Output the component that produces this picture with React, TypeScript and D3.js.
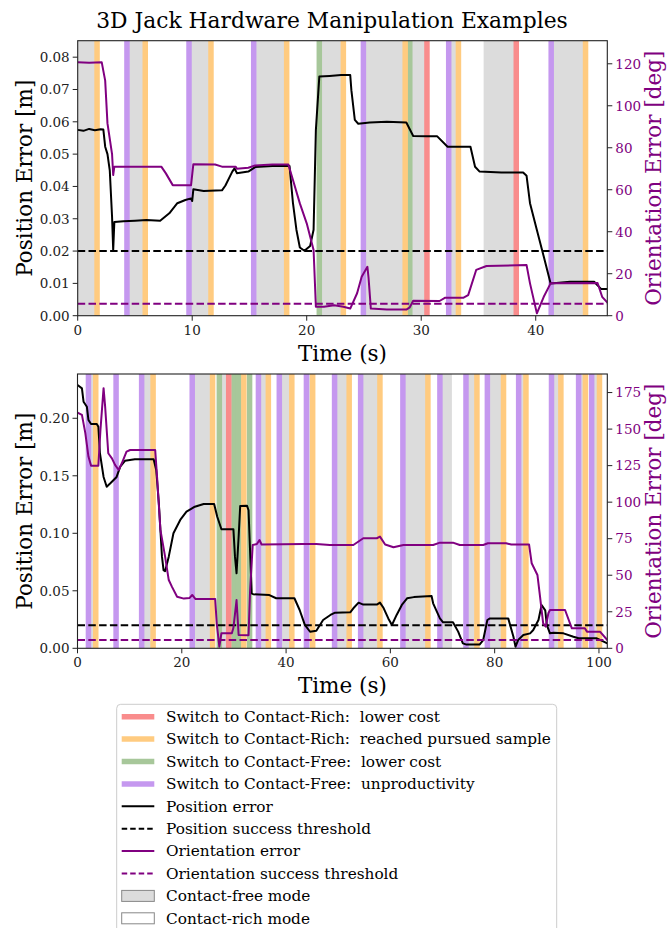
import React from "react";
import * as d3 from "d3";

// ---------------- DATA ----------------
const topPosT = [0, 0.5, 1.0, 1.5, 2.0, 2.24, 2.4, 2.6, 2.8, 3.0, 3.1, 3.2, 4.0, 5.0, 6.0, 7.2, 8.0, 8.7, 9.4, 9.9, 10.0, 10.1, 11.0, 12.6, 12.9, 13.5, 13.7, 13.9, 14.9, 15.5, 17.0, 18.5, 18.8, 19.1, 19.4, 19.8, 20.3, 20.6, 20.8, 21.1, 22.0, 23.0, 23.8, 23.9, 24.2, 24.5, 25.5, 27.0, 28.7, 29.3, 30.5, 31.4, 32.3, 34.3, 34.7, 35.1, 37.0, 38.9, 39.2, 39.5, 40.1, 40.7, 41.3, 43.0, 45.1, 45.7, 46.3];
const topPos = [0.0575, 0.0572, 0.0578, 0.0574, 0.0577, 0.0576, 0.0523, 0.050, 0.045, 0.0307, 0.0203, 0.029, 0.0292, 0.0294, 0.0296, 0.0294, 0.0317, 0.0348, 0.0358, 0.0363, 0.0355, 0.0391, 0.0386, 0.0388, 0.0403, 0.0446, 0.0456, 0.0441, 0.0446, 0.046, 0.0463, 0.0463, 0.0348, 0.0266, 0.0211, 0.0201, 0.0216, 0.0266, 0.0575, 0.074, 0.0742, 0.0745, 0.0745, 0.0698, 0.0606, 0.0594, 0.0598, 0.060, 0.0598, 0.0556, 0.0555, 0.0555, 0.0523, 0.0523, 0.0461, 0.0446, 0.0443, 0.0443, 0.0433, 0.0348, 0.0265, 0.0183, 0.010, 0.0105, 0.0105, 0.0083, 0.0083];

const topOriT = [0, 1, 2.1, 2.4, 2.6, 3.0, 3.1, 3.2, 5, 7.3, 7.7, 8.3, 9.9, 10.1, 12.0, 12.6, 13.8, 13.9, 14.9, 15.5, 17, 18.4, 18.8, 19.4, 20.0, 20.6, 20.8, 21.5, 22.4, 23.2, 23.8, 24.4, 24.8, 25.3, 25.4, 25.6, 27, 28.7, 29.0, 29.3, 31.6, 32.1, 33.7, 34.1, 34.8, 35.7, 39.2, 39.5, 40.1, 40.7, 41.3, 45.4, 45.8, 46.3];
const topOri = [120.7, 120.5, 120.7, 112, 91.6, 77, 67, 71, 71, 71, 67.8, 62.2, 62.2, 72.2, 72, 71, 71, 70, 70.5, 71.6, 72, 72, 64.6, 53.5, 44, 31.3, 4.3, 4.3, 5, 4.3, 3.4, 10.7, 18.6, 23.3, 18, 3.4, 3.0, 2.9, 4, 7.1, 7, 8.6, 8.6, 9.8, 21.8, 23.7, 24.1, 15.4, 1.1, 9, 15.4, 15.6, 9, 6];

const botPosT = [0, 0.85, 1.16, 1.8, 2.1, 2.6, 3.7, 4.0, 4.3, 5.0, 5.6, 6.3, 7.5, 8.2, 9.1, 11, 14.6, 15.1, 15.6, 16.2, 16.5, 16.8, 17.5, 18.4, 19.7, 20.9, 22.5, 24.2, 26.2, 26.8, 27.6, 29.9, 30.2, 30.5, 30.9, 31.2, 32.5, 32.8, 33.4, 33.7, 36.8, 38.1, 41.6, 42.6, 43.6, 44.6, 45.8, 47.1, 48.5, 49.4, 52.3, 52.9, 53.9, 54.8, 57.4, 58.0, 58.7, 59.6, 60.3, 61.2, 62.2, 63.2, 64.5, 67.9, 68.2, 69.5, 70.1, 72.0, 73.0, 73.9, 74.6, 77.1, 77.8, 78.6, 79.1, 82.6, 83.6, 84.0, 84.5, 85.5, 86.8, 87.4, 88.4, 89.0, 89.7, 90.0, 90.6, 91.3, 93.2, 95.1, 96.1, 99.6, 100.9, 101.6];
const botPos = [0.229, 0.226, 0.2144, 0.210, 0.1985, 0.195, 0.195, 0.1927, 0.1696, 0.149, 0.1405, 0.1435, 0.149, 0.158, 0.163, 0.1643, 0.1643, 0.155, 0.126, 0.0797, 0.068, 0.067, 0.0797, 0.1, 0.1116, 0.1188, 0.1231, 0.1255, 0.1255, 0.1144, 0.1035, 0.1035, 0.0797, 0.0652, 0.097, 0.1237, 0.124, 0.12, 0.0478, 0.047, 0.0463, 0.0435, 0.0435, 0.0333, 0.0203, 0.0144, 0.0153, 0.0246, 0.029, 0.031, 0.0313, 0.0348, 0.0397, 0.038, 0.038, 0.0397, 0.035, 0.026, 0.0203, 0.029, 0.0377, 0.0435, 0.0445, 0.0455, 0.0391, 0.026, 0.0226, 0.0226, 0.0145, 0.0043, 0.0032, 0.0032, 0.0072, 0.0246, 0.026, 0.026, 0.0101, 0.0014, 0.0072, 0.0116, 0.013, 0.0159, 0.0246, 0.0377, 0.033, 0.0203, 0.013, 0.0135, 0.013, 0.0101, 0.0087, 0.0087, 0.0058, 0.0043];

const botOriT = [0, 0.85, 1.5, 2.1, 2.6, 4.0, 4.4, 5.0, 5.3, 5.9, 6.6, 7.2, 7.9, 8.5, 9.4, 10.1, 14.9, 15.3, 15.9, 16.8, 17.5, 18.1, 19.1, 20.4, 21.5, 22.0, 22.6, 26.4, 26.7, 27.2, 27.6, 29.6, 29.9, 30.5, 30.9, 32.8, 33.1, 33.6, 34.4, 34.9, 35.3, 43.3, 45.8, 48.4, 52.9, 54.8, 57.4, 58.0, 59.0, 60.6, 62.5, 68.2, 69.5, 72.0, 73.3, 77.8, 78.7, 82.2, 83.2, 86.6, 87.1, 88.2, 88.7, 89.3, 89.8, 90.3, 90.6, 93.5, 94.8, 97.3, 97.7, 100.2, 101.6];
const botOri = [161.3, 159.7, 147.2, 131.2, 125, 125, 149.4, 178, 165.4, 133.5, 130, 125.5, 122, 126.6, 134.6, 135.7, 135.7, 115.2, 81, 62.7, 46.7, 42.2, 35.3, 34, 34.5, 36.5, 33.8, 33.8, 17.1, 1.1, 10.3, 10.3, 14, 33, 9.1, 9, 40, 70.7, 71.4, 74.1, 71, 71.4, 71.4, 70.7, 70.7, 75.3, 75.3, 76.4, 71, 69.1, 70.7, 70.7, 72.3, 72.3, 70.7, 70.7, 71.9, 71.9, 71, 71, 58.2, 50.2, 35.3, 17.1, 14.8, 24, 26.2, 26.2, 13.7, 13.7, 11.4, 11.4, 5.7];

// contact-free (gray) intervals [start, end]
const topFreeStart = [0, 4.3, 9.72, 15.37, 21.1, 24.95, 29.0, 32.4, 35.45, 41.35];
const topFreeEnd = [1.69, 5.9, 11.64, 18.25, 23.2, 28.6, 30.5, 33.25, 38.3, 44.35];
const botFreeStart = [2.1, 12.3, 22.0, 27.2, 29.6, 33.0, 34.7, 38.7, 43.9, 49.3, 54.3, 62.4, 69.5, 74.5, 78.6, 84.6, 90.9, 96.1, 98.6];
const botFreeEnd = [3.5, 14.5, 25.9, 29.0, 31.9, 33.4, 36.6, 41.1, 45.1, 52.1, 58.0, 67.2, 71.8, 76.6, 81.7, 86.0, 92.7, 97.4, 100.1];

// switch events
const topRedLower = [30.5, 38.3];
const topOrangeReached = [1.69, 5.9, 11.64, 18.25, 23.2, 28.6, 33.25, 44.35];
const topGreenLower = [21.1, 29.0];
const topPurpleUnprod = [4.3, 9.72, 15.37, 24.95, 32.4, 41.35];

const botRedLower = [29.0];
const botOrangeReached = [3.5, 14.5, 25.9, 31.9, 36.6, 41.1, 45.1, 52.1, 58.0, 67.2, 76.6, 81.7, 86.0, 92.7, 97.4, 100.1];
const botGreenLower = [27.2, 30.0, 30.9, 33.0];
const botPurpleUnprod = [2.1, 7.4, 12.3, 22.0, 34.7, 38.7, 43.9, 49.3, 54.3, 62.4, 69.5, 74.5, 78.6, 84.6, 90.9, 96.1, 98.6];

const posThreshold = 0.02;
const oriThreshold = 5.73;

const topXTicks = [0, 10, 20, 30, 40];
const topYTicks = [0, 0.01, 0.02, 0.03, 0.04, 0.05, 0.06, 0.07, 0.08];
const topY2Ticks = [0, 20, 40, 60, 80, 100, 120];
const botXTicks = [0, 20, 40, 60, 80, 100];
const botYTicks = [0, 0.05, 0.1, 0.15, 0.2];
const botY2Ticks = [0, 25, 50, 75, 100, 125, 150, 175];

const legendLabels = [
  "Switch to Contact-Rich:  lower cost",
  "Switch to Contact-Rich:  reached pursued sample",
  "Switch to Contact-Free:  lower cost",
  "Switch to Contact-Free:  unproductivity",
  "Position error",
  "Position success threshold",
  "Orientation error",
  "Orientation success threshold",
  "Contact-free mode",
  "Contact-rich mode",
];

// ---------------- STYLE ----------------
const FONT = "'DejaVu Serif', serif";
const C_RED = "#f98c8c";
const C_ORANGE = "#ffcb80";
const C_GREEN = "#a7c79a";
const C_PURPLE = "#c598ef";
const C_GRAY = "#dcdcdc";
const C_ORI = "#800080";
const BAND_W = 5.5;
const LINE_W = 2;
const DASH = "7.5,3.3";
const LABEL_FS = 21.5;

type PanelProps = {
  box: { l: number; r: number; t: number; b: number };
  xMax: number; yMax: number; y2Max: number;
  xTicks: number[]; yTicks: number[]; y2Ticks: number[];
  yFmt: (v: number) => string;
  posT: number[]; pos: number[]; oriT: number[]; ori: number[];
  freeS: number[]; freeE: number[];
  red: number[]; orange: number[]; green: number[]; purple: number[];
};

function Panel(p: PanelProps) {
  const { box } = p;
  const x = d3.scaleLinear().domain([0, p.xMax]).range([box.l, box.r]);
  const y = d3.scaleLinear().domain([0, p.yMax]).range([box.b, box.t]);
  const y2 = d3.scaleLinear().domain([0, p.y2Max]).range([box.b, box.t]);
  const posLine = d3.line<number>().x((_, i) => x(p.posT[i])).y((d) => y(d));
  const oriLine = d3.line<number>().x((_, i) => x(p.oriT[i])).y((d) => y2(d));
  const clipId = `clip-${Math.round(box.t)}`;
  const bands: [number[], string][] = [
    [p.purple, C_PURPLE], [p.green, C_GREEN], [p.orange, C_ORANGE], [p.red, C_RED],
  ];
  const cy = (box.t + box.b) / 2;
  return (
    <g>
      <defs>
        <clipPath id={clipId}>
          <rect x={box.l} y={box.t} width={box.r - box.l} height={box.b - box.t} />
        </clipPath>
      </defs>
      <g clipPath={`url(#${clipId})`}>
        {p.freeS.map((s, i) => (
          <rect key={"g" + i} x={x(s)} y={box.t} width={x(p.freeE[i]) - x(s)} height={box.b - box.t} fill={C_GRAY} />
        ))}
        {bands.map(([arr, col], bi) =>
          arr.map((t, i) => (
            <line key={`b${bi}-${i}`} x1={x(t)} x2={x(t)} y1={box.t} y2={box.b} stroke={col} strokeWidth={BAND_W} />
          ))
        )}
        <path d={posLine(p.pos) || ""} fill="none" stroke="#000" strokeWidth={LINE_W} strokeLinejoin="round" />
        <line x1={box.l} x2={box.r} y1={y(posThreshold)} y2={y(posThreshold)} stroke="#000" strokeWidth={LINE_W} strokeDasharray={DASH} />
        <path d={oriLine(p.ori) || ""} fill="none" stroke={C_ORI} strokeWidth={LINE_W} strokeLinejoin="round" />
        <line x1={box.l} x2={box.r} y1={y2(oriThreshold)} y2={y2(oriThreshold)} stroke={C_ORI} strokeWidth={LINE_W} strokeDasharray={DASH} />
      </g>
      <rect x={box.l} y={box.t} width={box.r - box.l} height={box.b - box.t} fill="none" stroke="#222" strokeWidth={1.1} />
      {p.xTicks.map((t) => (
        <g key={"xt" + t}>
          <line x1={x(t)} x2={x(t)} y1={box.b} y2={box.b + 5} stroke="#222" strokeWidth={1} />
          <text x={x(t)} y={box.b + 19} textAnchor="middle" fontSize={13.5} fontFamily={FONT} fill="#222">{t}</text>
        </g>
      ))}
      {p.yTicks.map((t) => (
        <g key={"yt" + t}>
          <line x1={box.l - 5} x2={box.l} y1={y(t)} y2={y(t)} stroke="#222" strokeWidth={1} />
          <text x={box.l - 8} y={y(t) + 4.8} textAnchor="end" fontSize={13.5} fontFamily={FONT} fill="#222">{p.yFmt(t)}</text>
        </g>
      ))}
      {p.y2Ticks.map((t) => (
        <g key={"y2t" + t}>
          <line x1={box.r} x2={box.r + 5} y1={y2(t)} y2={y2(t)} stroke="#222" strokeWidth={1} />
          <text x={box.r + 8} y={y2(t) + 4.8} textAnchor="start" fontSize={13.5} fontFamily={FONT} fill={C_ORI}>{t}</text>
        </g>
      ))}
      <text x={(box.l + box.r) / 2} y={box.b + 45} textAnchor="middle" fontSize={LABEL_FS} fontFamily={FONT} fill="#000">Time (s)</text>
      <text transform={`translate(${box.l - 46},${cy}) rotate(-90)`} textAnchor="middle" fontSize={LABEL_FS} fontFamily={FONT} fill="#000">Position Error [m]</text>
      <text transform={`translate(${box.r + 54},${cy}) rotate(-90)`} textAnchor="middle" fontSize={LABEL_FS} fontFamily={FONT} fill={C_ORI}>Orientation Error [deg]</text>
    </g>
  );
}

function Legend() {
  const x0 = 116.7, y0 = 704.3, w = 440, h = 232;
  const rowY = (i: number) => 716.7 + i * 22.4;
  const hx1 = 121.7, hx2 = 154.3, tx = 166;
  const bandCols = [C_RED, C_ORANGE, C_GREEN, C_PURPLE];
  return (
    <g>
      <rect x={x0} y={y0} width={w} height={h} rx={4} fill="#fff" fillOpacity={0.8} stroke="#cccccc" strokeWidth={1} />
      {legendLabels.map((lab, i) => {
        const yy = rowY(i);
        let handle: React.ReactNode = null;
        if (i < 4) handle = <line x1={hx1} x2={hx2} y1={yy} y2={yy} stroke={bandCols[i]} strokeWidth={BAND_W} />;
        else if (i === 4) handle = <line x1={hx1} x2={hx2} y1={yy} y2={yy} stroke="#000" strokeWidth={LINE_W} />;
        else if (i === 5) handle = <line x1={hx1} x2={hx2} y1={yy} y2={yy} stroke="#000" strokeWidth={LINE_W} strokeDasharray="5.5,3" />;
        else if (i === 6) handle = <line x1={hx1} x2={hx2} y1={yy} y2={yy} stroke={C_ORI} strokeWidth={LINE_W} />;
        else if (i === 7) handle = <line x1={hx1} x2={hx2} y1={yy} y2={yy} stroke={C_ORI} strokeWidth={LINE_W} strokeDasharray="5.5,3" />;
        else if (i === 8) handle = <rect x={hx1} y={yy - 5.5} width={hx2 - hx1} height={11} fill={C_GRAY} stroke="#888" strokeWidth={1} />;
        else handle = <rect x={hx1} y={yy - 5.5} width={hx2 - hx1} height={11} fill="#fff" stroke="#888" strokeWidth={1} />;
        return (
          <g key={lab}>
            {handle}
            <text x={tx} y={yy + 5.2} fontSize={15.3} fontFamily={FONT} fill="#000" style={{ whiteSpace: "pre" }}>{lab}</text>
          </g>
        );
      })}
    </g>
  );
}

export default function App() {
  return (
    <svg width={667} height={928} style={{ position: "absolute", left: 0, top: 0, background: "#fff" }} xmlSpace="preserve">
      <rect x={0} y={0} width={667} height={928} fill="#fff" />
      <text x={332} y={27.5} textAnchor="middle" fontSize={21.8} fontFamily={FONT} fill="#000">3D Jack Hardware Manipulation Examples</text>
      <Panel
        box={{ l: 77.7, r: 607.3, t: 40.7, b: 315.7 }}
        xMax={46.25} yMax={0.0851} y2Max={131}
        xTicks={topXTicks} yTicks={topYTicks} y2Ticks={topY2Ticks}
        yFmt={(v) => v.toFixed(2)}
        posT={topPosT} pos={topPos} oriT={topOriT} ori={topOri}
        freeS={topFreeStart} freeE={topFreeEnd}
        red={topRedLower} orange={topOrangeReached} green={topGreenLower} purple={topPurpleUnprod}
      />
      <Panel
        box={{ l: 77.5, r: 607.3, t: 374, b: 648.3 }}
        xMax={101.6} yMax={0.2385} y2Max={187.7}
        xTicks={botXTicks} yTicks={botYTicks} y2Ticks={botY2Ticks}
        yFmt={(v) => v.toFixed(2)}
        posT={botPosT} pos={botPos} oriT={botOriT} ori={botOri}
        freeS={botFreeStart} freeE={botFreeEnd}
        red={botRedLower} orange={botOrangeReached} green={botGreenLower} purple={botPurpleUnprod}
      />
      <Legend />
    </svg>
  );
}
